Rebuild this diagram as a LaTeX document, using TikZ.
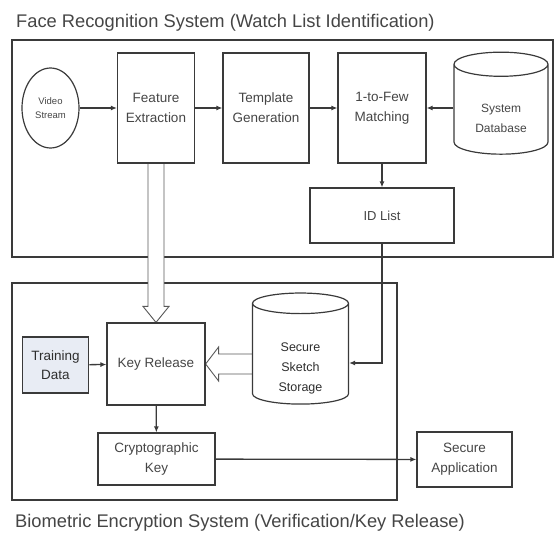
\documentclass[tikz,border=0pt]{standalone}
\usepackage{fontspec}
\setmainfont{Liberation Sans}
\usetikzlibrary{shapes.geometric,arrows.meta,calc,backgrounds}
\definecolor{inkgray}{HTML}{3A3A3A}
\definecolor{textgray}{HTML}{454545}
\definecolor{darktext}{HTML}{2E2E2E}
\definecolor{trainfill}{HTML}{E8ECF4}

\begin{document}
\begin{tikzpicture}[x=1pt, y=-1pt,
    every node/.style={text=textgray},
    block/.style={draw=inkgray, line width=1.2pt, align=center, inner sep=0pt, font=\fontsize{13.5}{20}\selectfont},
    store/.style={cylinder, shape border rotate=90, aspect=0.47, draw=inkgray, line width=1.2pt, align=center, inner sep=0pt, font=\fontsize{12.5}{20}\selectfont},
    frame/.style={draw=inkgray, line width=2pt},
    flow/.style={draw=inkgray, line width=1.3pt, -{Latex[length=6pt,width=5pt]}},
    hollow/.style={draw=inkgray!85, line width=0.9pt, fill=white},
    heading/.style={anchor=base west, inner sep=0pt, font=\fontsize{18.3}{22}\selectfont}]
    \useasboundingbox (0,0) rectangle (556,533);

    % Titles
    \node[heading] (toptitle) at (16,27) {Face Recognition System (Watch List Identification)};
    \node[heading] (bottitle) at (15,527) {Biometric Encryption System (Verification/Key Release)};

    % Watch list identification chain
    \node[ellipse, draw=inkgray, line width=1.2pt, minimum width=57, minimum height=80, inner sep=0pt, align=center, font=\fontsize{9.5}{14}\selectfont] (vs) at (50.5,108) {Video\\Stream};
    \node[block, minimum width=77, minimum height=110] (fe) at (156,108) {Feature\\Extraction};
    \node[block, minimum width=86, minimum height=110] (tg) at (266,108) {Template\\Generation};
    \node[block, minimum width=88, minimum height=110] (mt) at (382,108) {1-to-Few\\Matching};
    \node[store, minimum width=94, minimum height=102, text height=46pt, font=\fontsize{12}{20}\selectfont] (db) at (501,109.5) {System\\Database};
    \node[block, minimum width=144, minimum height=55, font=\fontsize{13}{20}\selectfont] (id) at (382,215.5) {ID List};

    % Key release chain
    \node[block, fill=trainfill, line width=1.6pt, minimum width=66, minimum height=56, text=darktext, font=\fontsize{13.5}{19}\selectfont] (td) at (55.5,365) {Training\\Data};
    \node[block, minimum width=98, minimum height=82] (kr) at (156,364) {Key Release};
    \node[store, minimum width=96, minimum height=109, text height=77pt, text=darktext] (ss) at (300.5,354) {Secure\\Sketch\\Storage};
    \node[block, minimum width=117, minimum height=52] (ck) at (156.5,459) {Cryptographic\\Key};
    \node[block, minimum width=95, minimum height=55] (sa) at (464.5,459.5) {Secure\\Application};

    % Connectors
    \draw[flow] (vs) -- (fe);
    \draw[flow] (fe) -- (tg);
    \draw[flow] (tg) -- (mt);
    \draw[flow] (db.west |- mt.east) -- (mt);
    \draw[flow] (mt) -- (id);
    \draw[flow] (id.south) |- ([yshift=-9pt]ss.east);
    \draw[flow] (td) -- (kr);
    \draw[flow] (kr) -- (ck);
    \draw[flow] (ck) -- (sa);

    \begin{scope}[on background layer]
        % System frames
        \draw[frame] (12,40) rectangle (553,257);
        \draw[frame] (12,283) rectangle (397,500);

        % Hollow arrows into key release
        \draw[hollow] ([xshift=-8pt]fe.south) -- ([xshift=-8pt,yshift=16pt]kr.north) -- ([xshift=-13pt,yshift=16pt]kr.north) -- (kr.north) -- ([xshift=13pt,yshift=16pt]kr.north) -- ([xshift=8pt,yshift=16pt]kr.north) -- ([xshift=8pt]fe.south);
        \coordinate (hu) at ($(kr.east)+(0,10pt)$);
        \coordinate (hd) at ($(kr.east)+(0,-10pt)$);
        \draw[hollow] (ss.west |- hu) -- ([xshift=13pt]hu) -- ([xshift=13pt,yshift=7pt]hu) -- (kr.east) -- ([xshift=13pt,yshift=-7pt]hd) -- ([xshift=13pt]hd) -- (ss.west |- hd);
    \end{scope}
\end{tikzpicture}
\end{document}
